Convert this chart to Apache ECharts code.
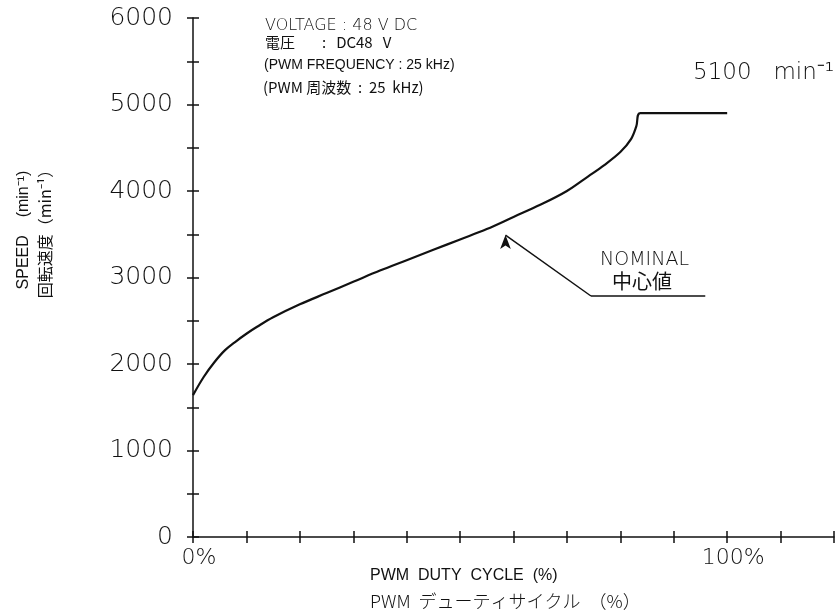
<!DOCTYPE html>
<html><head><meta charset="utf-8">
<script src="https://cdn.jsdelivr.net/npm/echarts@6/dist/echarts.min.js"></script>
<style>html,body{margin:0;padding:0;background:#fff}#c{width:837px;height:614px}</style>
</head><body><div id="c"></div>
<script>
// Data
const dutyPct = [0,2,4,6,8,10,12,15,20,25,30,35,40,45,50,55,60,65,70,74,77,80,82,83,83.7,100];
const speed   = [1640,1850,2020,2160,2260,2350,2430,2540,2690,2820,2950,3080,3200,3320,3440,3560,3700,3840,4000,4170,4300,4450,4600,4750,4900,4900];
const yTickLabels = ['0','1000','2000','3000','4000','5000','6000'];
const xTickLabels = {0:'0%',100:'100%'};
const nominalArrow = [[58.5,3490],[74.5,2786]];
const nominalShelf = [[74.5,2786],[95.9,2786]];

const FONT = 'DejaVu Sans';
const JP = 'Noto Sans CJK JP';
const ink = '#111';

const chart = echarts.init(document.getElementById('c'));
const lineStyleAxis = {color: ink, width: 1.5};
chart.setOption({
  animation:false,
  grid:{left:193, top:18, right:0, bottom:614-537},
  xAxis:[
    {type:'value', min:0, max:120, interval:10, position:'bottom',
     axisLine:{lineStyle:lineStyleAxis}, axisTick:{length:6, lineStyle:lineStyleAxis},
     splitLine:{show:false},
     axisLabel:{margin:10, color:ink, fontFamily:FONT, fontSize:22, fontWeight:200,
       padding:[0,0,0,12],
       formatter:v=>xTickLabels[v]||''}},
    {type:'value', min:0, max:120, interval:10, position:'bottom',
     axisLine:{show:false}, axisTick:{inside:true, length:6, lineStyle:lineStyleAxis},
     splitLine:{show:false}, axisLabel:{show:false}}
  ],
  yAxis:[
    {type:'value', min:0, max:6000, interval:500, position:'left',
     axisLine:{show:true, lineStyle:lineStyleAxis}, axisTick:{show:true, length:6, lineStyle:lineStyleAxis},
     splitLine:{show:false},
     axisLabel:{margin:20, color:ink, fontFamily:FONT, fontSize:25, fontWeight:200,
       formatter:v=> (yTickLabels.indexOf(String(v))>=0 ? String(v) : '')}},
    {type:'value', min:0, max:6000, interval:500, position:'left',
     axisLine:{show:false}, axisTick:{show:true, inside:true, length:6, lineStyle:lineStyleAxis},
     splitLine:{show:false}, axisLabel:{show:false}}
  ],
  series:[
    {type:'line', xAxisIndex:0, yAxisIndex:0, showSymbol:false, smooth:0.35,
     data: dutyPct.map((x,i)=>[x,speed[i]]),
     lineStyle:{color:ink, width:2.2},
     markLine:{silent:true, symbol:['none','none'], label:{show:false},
       lineStyle:{color:ink, width:1.5, type:'solid'},
       data:[
         [{coord:nominalArrow[0], symbol:'arrow', symbolSize:[8,14], symbolRotate:0},{coord:nominalArrow[1], symbol:'none'}],
         [{coord:nominalShelf[0], symbol:'none'},{coord:nominalShelf[1], symbol:'none'}]
       ]}}
  ],
  graphic:[
    {type:'text', left:265, top:18, style:{text:'VOLTAGE : 48 V DC', font:'200 16px "DejaVu Sans"', fill:ink}},
    {type:'text', left:265, top:35, style:{text:'電圧        :   DC48   V', font:'15px "Noto Sans CJK JP"', fill:ink}},
    {type:'text', left:264, top:58, style:{text:'(PWM FREQUENCY : 25 kHz)', font:'14px "Liberation Sans"', fill:ink}},
    {type:'text', left:263, top:80, style:{text:'(PWM 周波数  :  25  kHz)', font:'15px "Noto Sans CJK JP"', fill:ink}},
    {type:'text', left:693, top:62, style:{text:'5100   min⁻¹', font:'200 23px "DejaVu Sans"', fill:ink}},
    {type:'text', left:600, top:251, style:{text:'NOMINAL', font:'200 19px "DejaVu Sans"', fill:ink}},
    {type:'text', left:612, top:271, style:{text:'中心値', font:'20px "Noto Sans CJK JP"', fill:ink}},
    {type:'text', left:370, top:568, style:{text:'PWM  DUTY  CYCLE  (%)', font:'16px "Liberation Sans"', fill:ink}},
    {type:'text', left:370, top:592, style:{text:'PWM  デューティサイクル  （%）', font:'200 18px "Noto Sans CJK JP"', fill:ink}},
    {type:'text', x:24, y:230, rotation:Math.PI/2, style:{text:'SPEED    (min⁻¹)', font:'16px "Liberation Sans"', fill:ink, align:'center', verticalAlign:'middle'}},
    {type:'text', x:45, y:230, rotation:Math.PI/2, style:{text:'回転速度（min⁻¹）', font:'16px "Noto Sans CJK JP"', fill:ink, align:'center', verticalAlign:'middle'}}
  ]
});
</script></body></html>
